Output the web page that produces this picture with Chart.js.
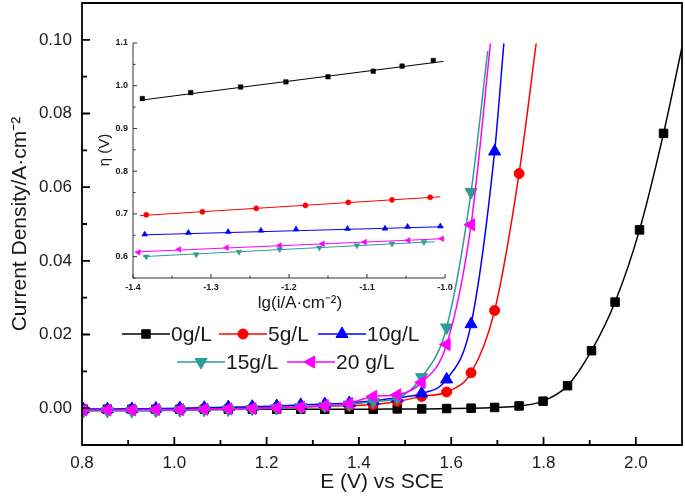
<!DOCTYPE html>
<html>
<head>
<meta charset="utf-8">
<script src="https://cdn.jsdelivr.net/npm/chart.js@4.4.1/dist/chart.umd.min.js"></script>
<style>
  html, body { margin: 0; padding: 0; background: #fff; }
  #wrap { position: relative; width: 685px; height: 497px; }
  #main { position: absolute; left: 0; top: 0; }
  #inset { position: absolute; left: 90px; top: 25px; }
</style>
</head>
<body>
<div id="wrap">
  <canvas id="main" width="685" height="497"></canvas>
  <canvas id="inset" width="380" height="295"></canvas>
</div>
<script>
// ---- main plot data: polarisation curves, E (V vs SCE) -> current density (A/cm2)
const potentials = [0.803, 0.855, 0.908, 0.960, 1.012, 1.065, 1.117, 1.169, 1.222, 1.274, 1.326, 1.379,
    1.431, 1.483, 1.536, 1.590, 1.643, 1.694, 1.747, 1.799, 1.852, 1.904, 1.955, 2.008, 2.060];
const j0 = [-0.0003, -0.0003, -0.0003, -0.0003, -0.0003, -0.0003, -0.0003, -0.0003, -0.0003, -0.0003,
    -0.0003, -0.0003, -0.0003, -0.0002, -0.0002, -0.0001, 0.0000, 0.0002, 0.0006, 0.0019, 0.0061,
    0.0156, 0.0288, 0.0484, 0.0746];
const j5 = [-0.0004, -0.0004, -0.0003, -0.0003, -0.0002, -0.0001, 0.0000, 0.0001, 0.0002, 0.0003,
    0.0005, 0.0007, 0.0010, 0.0018, 0.0032, 0.0044, 0.0096, 0.0265, 0.0637];
const j10 = [-0.0003, -0.0003, -0.0002, -0.0001, 0.0000, 0.0001, 0.0003, 0.0004, 0.0006, 0.0009,
    0.0011, 0.0014, 0.0020, 0.0028, 0.0040, 0.0078, 0.0228, 0.0697];
const j15 = [-0.0008, -0.0008, -0.0008, -0.0007, -0.0006, -0.0005, -0.0004, -0.0002, 0.0000, 0.0003,
    0.0006, 0.0010, 0.0018, 0.0027, 0.0084, 0.0219, 0.0587];
const j20 = [-0.0005, -0.0005, -0.0005, -0.0004, -0.0004, -0.0003, -0.0002, -0.0001, 0.0001, 0.0003,
    0.0007, 0.0013, 0.0032, 0.0036, 0.0070, 0.0173, 0.0498];
// where each curve leaves the plot (no marker there)
const curveEndE = [2.100, 1.784, 1.714, 1.679, 1.685];
const curveEndJ = [0.098, 0.099, 0.099, 0.097, 0.099];

const seriesNames = ['0g/L', '5g/L', '10g/L', '15g/L', '20 g/L'];
const xTicks = [0.8, 1.0, 1.2, 1.4, 1.6, 1.8, 2.0];
const xMinor = [0.9, 1.1, 1.3, 1.5, 1.7, 1.9, 2.1];
const yTicks = [0.00, 0.02, 0.04, 0.06, 0.08, 0.10];
const yMinor = [-0.01, 0.01, 0.03, 0.05, 0.07, 0.09];

// ---- inset data: Tafel region, lg(i) -> overpotential (V)
const lg0 = [-1.388, -1.326, -1.262, -1.204, -1.150, -1.092, -1.055, -1.015];
const eta0 = [0.970, 0.984, 0.997, 1.009, 1.021, 1.034, 1.046, 1.059];
const lg5 = [-1.383, -1.311, -1.242, -1.179, -1.124, -1.068, -1.019];
const eta5 = [0.698, 0.705, 0.713, 0.720, 0.727, 0.733, 0.739];
const lg10 = [-1.385, -1.329, -1.278, -1.236, -1.191, -1.125, -1.077, -1.048, -1.006];
const eta10 = [0.652, 0.656, 0.658, 0.661, 0.664, 0.665, 0.666, 0.670, 0.671];
const lg15 = [-1.383, -1.319, -1.264, -1.212, -1.161, -1.113, -1.068, -1.027];
const eta15 = [0.600, 0.605, 0.611, 0.617, 0.621, 0.626, 0.630, 0.634];
const lg20 = [-1.393, -1.341, -1.280, -1.212, -1.157, -1.103, -1.047, -1.004];
const eta20 = [0.610, 0.617, 0.621, 0.626, 0.630, 0.634, 0.638, 0.642];
// Tafel fit lines, start/end
const fitLg = [[-1.391, -1.002], [-1.391, -1.006], [-1.387, -1.002], [-1.387, -1.013], [-1.397, -1.002]];
const fitEta = [[0.966, 1.057], [0.696, 0.740], [0.651, 0.670], [0.600, 0.635], [0.611, 0.642]];
const insetXTicks = [-1.4, -1.3, -1.2, -1.1, -1.0];
const insetXMinor = [-1.35, -1.25, -1.15, -1.05];
const insetYTicks = [0.6, 0.7, 0.8, 0.9, 1.0, 1.1];
const insetYMinor = [0.55, 0.65, 0.75, 0.85, 0.95, 1.05];

const FONT = "'Liberation Sans', Arial, sans-serif";
const TEXT = '#1a1a1a';

const styles = [
    { color: '#000000', pointStyle: 'rect', radius: 6, rotation: 0 },
    { color: '#ff0000', pointStyle: 'circle', radius: 5, rotation: 0 },
    { color: '#0000ff', pointStyle: 'triangle', radius: 7, rotation: 0 },
    { color: '#2e9c94', pointStyle: 'triangle', radius: 7, rotation: 180 },
    { color: '#ff00ff', pointStyle: 'triangle', radius: 7, rotation: 270 },
];
const insetStyles = styles.map(s => ({ ...s, radius: s.pointStyle === 'rect' ? 3.2 : (s.pointStyle === 'circle' ? 2.6 : 3.4) }));

// chart.js pads the area for edge tick labels; we place the area ourselves
const noEdgePad = (s) => {
    s.paddingTop = 0;
    s.paddingBottom = 0;
    s.paddingLeft = 0;
    s.paddingRight = 0;
};

// inward tick marks + axis frame, drawn through the chart's own scales
const frameTicks = {
    id: 'frameTicks',
    afterDatasetsDraw(chart, args, o) {
        const { ctx, chartArea: a, scales: { x, y } } = chart;
        ctx.save();
        ctx.strokeStyle = o.color;
        ctx.lineWidth = o.width;
        ctx.beginPath();
        if (o.box) {
            ctx.rect(a.left, a.top, a.right - a.left, a.bottom - a.top);
        } else {
            ctx.moveTo(a.left, a.top);
            ctx.lineTo(a.left, a.bottom);
            ctx.lineTo(a.right, a.bottom);
        }
        const tick = (vals, len, isX) => vals.forEach(v => {
            if (isX) {
                const px = x.getPixelForValue(v);
                ctx.moveTo(px, a.bottom);
                ctx.lineTo(px, a.bottom - len);
            } else {
                const py = y.getPixelForValue(v);
                ctx.moveTo(a.left, py);
                ctx.lineTo(a.left + len, py);
            }
        });
        tick(o.xMajor, o.majorLen, true);
        tick(o.xMinor, o.minorLen, true);
        tick(o.yMajor, o.majorLen, false);
        tick(o.yMinor, o.minorLen, false);
        ctx.stroke();
        ctx.restore();
    },
};

// legend with line + marker samples, placed inside the plot
const lineLegend = {
    id: 'lineLegend',
    afterDraw(chart, args, o) {
        if (!o.items) return;
        const { ctx } = chart;
        ctx.save();
        ctx.font = o.font;
        ctx.textBaseline = 'middle';
        o.items.forEach(item => {
            const ds = chart.data.datasets[item.index];
            const st = styles[item.index];
            ctx.strokeStyle = st.color;
            ctx.lineWidth = ds.borderWidth;
            ctx.beginPath();
            ctx.moveTo(item.x, item.y);
            ctx.lineTo(item.x + o.lineLen, item.y);
            ctx.stroke();
            ctx.fillStyle = st.color;
            ctx.lineWidth = 1;
            Chart.helpers.drawPoint(ctx, { pointStyle: st.pointStyle, radius: st.radius, rotation: st.rotation, borderWidth: 1 },
                item.x + o.lineLen / 2, item.y);
            ctx.fillStyle = TEXT;
            ctx.fillText(ds.label, item.x + o.lineLen + 1, item.y + 1);
        });
        ctx.restore();
    },
};

// inset axis titles sit off-centre in the original, so they are placed by hand
const insetTitles = {
    id: 'insetTitles',
    afterDraw(chart, args, o) {
        const { ctx } = chart;
        ctx.save();
        ctx.fillStyle = TEXT;
        ctx.textAlign = 'center';
        ctx.textBaseline = 'middle';
        ctx.font = o.xFont;
        ctx.fillText(o.xText, o.xAt[0], o.xAt[1]);
        ctx.font = o.yFont;
        ctx.translate(o.yAt[0], o.yAt[1]);
        ctx.rotate(-Math.PI / 2);
        ctx.fillText(o.yText, 0, 0);
        ctx.restore();
    },
};

const toPoints = (xs, ys) => ys.map((v, i) => ({ x: xs[i], y: v }));

const mainSets = [j0, j5, j10, j15, j20].map((j, k) => {
    const pts = toPoints(potentials, j);
    pts.push({ x: curveEndE[k], y: curveEndJ[k] });
    const st = styles[k];
    return {
        label: seriesNames[k],
        data: pts,
        showLine: true,
        borderColor: st.color,
        backgroundColor: st.color,
        borderWidth: 1.5,
        pointStyle: st.pointStyle,
        pointRotation: st.rotation,
        pointRadius: pts.map((p, i) => (i < j.length ? st.radius : 0)),
        pointBorderWidth: 1,
        cubicInterpolationMode: 'monotone',
        order: 5 - k,
    };
});

new Chart(document.getElementById('main'), {
    type: 'scatter',
    data: { datasets: mainSets },
    options: {
        responsive: false,
        animation: false,
        layout: { autoPadding: false, padding: { top: 3, right: 3, left: 0, bottom: 0 } },
        plugins: {
            legend: { display: false },
            tooltip: { enabled: false },
            frameTicks: {
                box: true, color: '#000', width: 1.8, majorLen: 8, minorLen: 5,
                xMajor: xTicks, xMinor: xMinor, yMajor: yTicks, yMinor: yMinor,
            },
            lineLegend: {
                font: `21px ${FONT}`,
                lineLen: 48,
                items: [
                    { index: 0, x: 122, y: 334 },
                    { index: 1, x: 219, y: 334 },
                    { index: 2, x: 318, y: 334 },
                    { index: 3, x: 177, y: 362 },
                    { index: 4, x: 287, y: 362 },
                ],
            },
        },
        scales: {
            x: {
                type: 'linear', min: 0.8, max: 2.1,
                afterFit: s => { s.height = 52; noEdgePad(s); },
                afterBuildTicks: s => { s.ticks = xTicks.map(v => ({ value: v })); },
                grid: { display: false, drawTicks: false },
                border: { display: false },
                ticks: { color: TEXT, font: { family: FONT, size: 17 }, padding: 8, maxRotation: 0, autoSkip: false,
                    callback: v => v.toFixed(1) },
                title: { display: true, text: 'E (V) vs SCE', color: TEXT, font: { family: FONT, size: 21 },
                    padding: { top: 0, bottom: 2 } },
            },
            y: {
                type: 'linear', min: -0.01, max: 0.11,
                afterFit: s => { s.width = 82; noEdgePad(s); },
                afterBuildTicks: s => { s.ticks = yTicks.map(v => ({ value: v })); },
                grid: { display: false, drawTicks: false },
                border: { display: false },
                ticks: { color: TEXT, font: { family: FONT, size: 17 }, padding: 10, autoSkip: false,
                    callback: v => v.toFixed(2) },
                title: { display: true, text: 'Current Density/A·cm⁻²', color: TEXT, font: { family: FONT, size: 21 },
                    padding: { top: 8, bottom: 0 } },
            },
        },
    },
    plugins: [frameTicks, lineLegend],
});

// ---- inset
const insetSets = [];
[[lg0, eta0], [lg5, eta5], [lg10, eta10], [lg15, eta15], [lg20, eta20]].forEach(([xs, ys], k) => {
    const st = insetStyles[k];
    insetSets.push({
        label: seriesNames[k] + ' fit',
        data: toPoints(fitLg[k], fitEta[k]),
        showLine: true,
        borderColor: st.color,
        borderWidth: 1,
        pointRadius: 0,
        order: 5 - k,
    });
    insetSets.push({
        label: seriesNames[k],
        data: toPoints(xs, ys),
        showLine: false,
        backgroundColor: st.color,
        borderColor: st.color,
        pointStyle: st.pointStyle,
        pointRotation: st.rotation,
        pointRadius: st.radius,
        pointBorderWidth: 0.5,
        order: 5 - k,
    });
});

new Chart(document.getElementById('inset'), {
    type: 'scatter',
    data: { datasets: insetSets },
    options: {
        responsive: false,
        animation: false,
        layout: { autoPadding: false, padding: { top: 18, right: 25, left: 0, bottom: 0 } },
        plugins: {
            legend: { display: false },
            tooltip: { enabled: false },
            frameTicks: {
                box: false, color: '#333', width: 1, majorLen: 4, minorLen: 2.5,
                xMajor: insetXTicks, xMinor: insetXMinor, yMajor: insetYTicks, yMinor: insetYMinor,
            },
            insetTitles: {
                xText: 'lg(i/A·cm⁻²)', xFont: `17px ${FONT}`, xAt: [210, 278],
                yText: 'η (V)', yFont: `15px ${FONT}`, yAt: [15, 125],
            },
        },
        scales: {
            x: {
                type: 'linear', min: -1.4, max: -1.0,
                afterFit: s => { s.height = 42; noEdgePad(s); },
                afterBuildTicks: s => { s.ticks = insetXTicks.map(v => ({ value: v })); },
                grid: { display: false, drawTicks: false },
                border: { display: false },
                ticks: { color: TEXT, font: { family: FONT, size: 9, weight: 'bold' }, padding: 4, maxRotation: 0,
                    autoSkip: false, callback: v => v.toFixed(1) },
            },
            y: {
                type: 'linear', min: 0.55, max: 1.1,
                afterFit: s => { s.width = 43; noEdgePad(s); },
                afterBuildTicks: s => { s.ticks = insetYTicks.map(v => ({ value: v })); },
                grid: { display: false, drawTicks: false },
                border: { display: false },
                ticks: { color: TEXT, font: { family: FONT, size: 9, weight: 'bold' }, padding: 5, autoSkip: false,
                    callback: v => v.toFixed(1) },
            },
        },
    },
    plugins: [frameTicks, insetTitles],
});
</script>
</body>
</html>
